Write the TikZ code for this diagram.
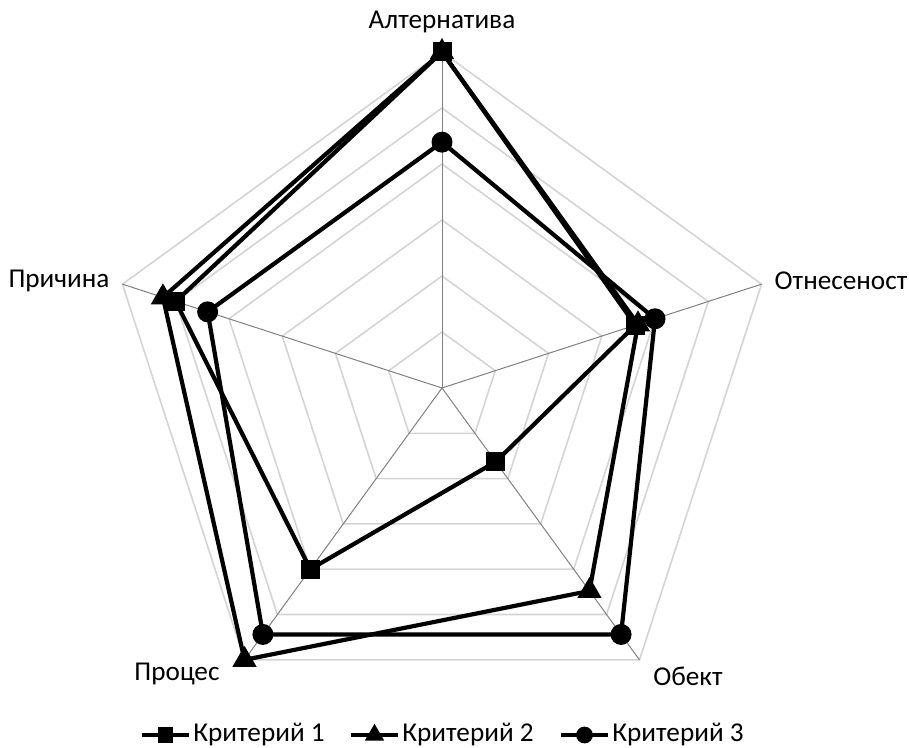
\documentclass[tikz,border=0pt]{standalone}
\usepackage{fontspec}
\setmainfont{Carlito}
\usetikzlibrary{shapes.geometric,calc}
\tikzset{
  spoke/.style={draw=black!50,line width=0.5pt},
  ring/.style={draw=black!17,line width=0.8pt},
  series/.style={line width=2.1pt,line join=round},
  sqmark/.style={rectangle,fill=black,inner sep=0pt,minimum size=9.5pt},
  trimark/.style={regular polygon,regular polygon sides=3,fill=black,inner sep=0pt,minimum size=14pt},
  cimark/.style={circle,fill=black,inner sep=0pt,minimum size=10.5pt},
  axislabel/.style={font=\fontsize{13.6}{16}\selectfont,inner sep=0pt},
}
\begin{document}
\begin{tikzpicture}[x=0.5pt,y=0.5pt]
	\useasboundingbox (-442,-360) rectangle (467,388);
    		\coordinate (Origin) at (0,0);
    		% rings of the net
    		\foreach \r in {56,112,168,224,280,336}{
    		  \draw[ring] (90:\r) -- (18:\r) -- (-54:\r) -- (-126:\r) -- (162:\r) -- cycle;
    		}
    		% spokes
    		\foreach \Name/\Ang in {Alt/90,Otn/18,Obe/-54,Pro/-126,Pri/162}{
    		  \coordinate (\Name) at (\Ang:336);
    		  \draw[spoke] (Origin) -- (\Name);
    		}

    		\node[axislabel] (LAlt) at (0,366) {Алтернатива};
    		\node[axislabel] (LOtn) at (399,107) {Отнесеност};
    		\node[axislabel] (LObe) at (246,-288) {Обект};
    		\node[axislabel] (LPro) at (-265,-286) {Процес};
    		\node[axislabel] (LPri) at (-383,107) {Причина};

    		% values, 6 = outer ring
    		\foreach \S/\a/\b/\c/\d/\e in {K1/6/3.63/1.63/4/5,K2/6/3.68/4.48/6/5.24,K3/4.39/4/5.44/5.44/4.4}{
    		  \coordinate (\S-1) at (90:{\a*56});
    		  \coordinate (\S-2) at (18:{\b*56});
    		  \coordinate (\S-3) at (-54:{\c*56});
    		  \coordinate (\S-4) at (-126:{\d*56});
    		  \coordinate (\S-5) at (162:{\e*56});
    		}

    		\draw[series] (K1-1) -- (K1-2) -- (K1-3) -- (K1-4) -- (K1-5) -- cycle;
    		\foreach \i in {1,...,5}{\node[sqmark] (M1-\i) at (K1-\i) {};}
    		\draw[series] (K2-1) -- (K2-2) -- (K2-3) -- (K2-4) -- (K2-5) -- cycle;
    		\foreach \i in {1,...,5}{\node[trimark] (M2-\i) at (K2-\i) {};}
    		\draw[series] (K3-1) -- (K3-2) -- (K3-3) -- (K3-4) -- (K3-5) -- cycle;
    		\foreach \i in {1,...,5}{\node[cimark] (M3-\i) at (K3-\i) {};}

    		% legend
    		\foreach \i/\x/\mk in {1/-300/sqmark,2/-91/trimark,3/119/cimark}{
    		  \coordinate (Leg\i a) at (\x,-347);
    		  \coordinate (Leg\i b) at (\x+47,-347);
    		  \draw[line width=1.7pt] (Leg\i a) -- (Leg\i b);
    		  \node[\mk,scale=0.8] (Leg\i m) at ($(Leg\i a)!0.5!(Leg\i b)$) {};
    		  \node[axislabel,anchor=west] (Leg\i t) at ([xshift=2]Leg\i b) {Критерий \i};
    		}
	\end{tikzpicture}
\end{document}
